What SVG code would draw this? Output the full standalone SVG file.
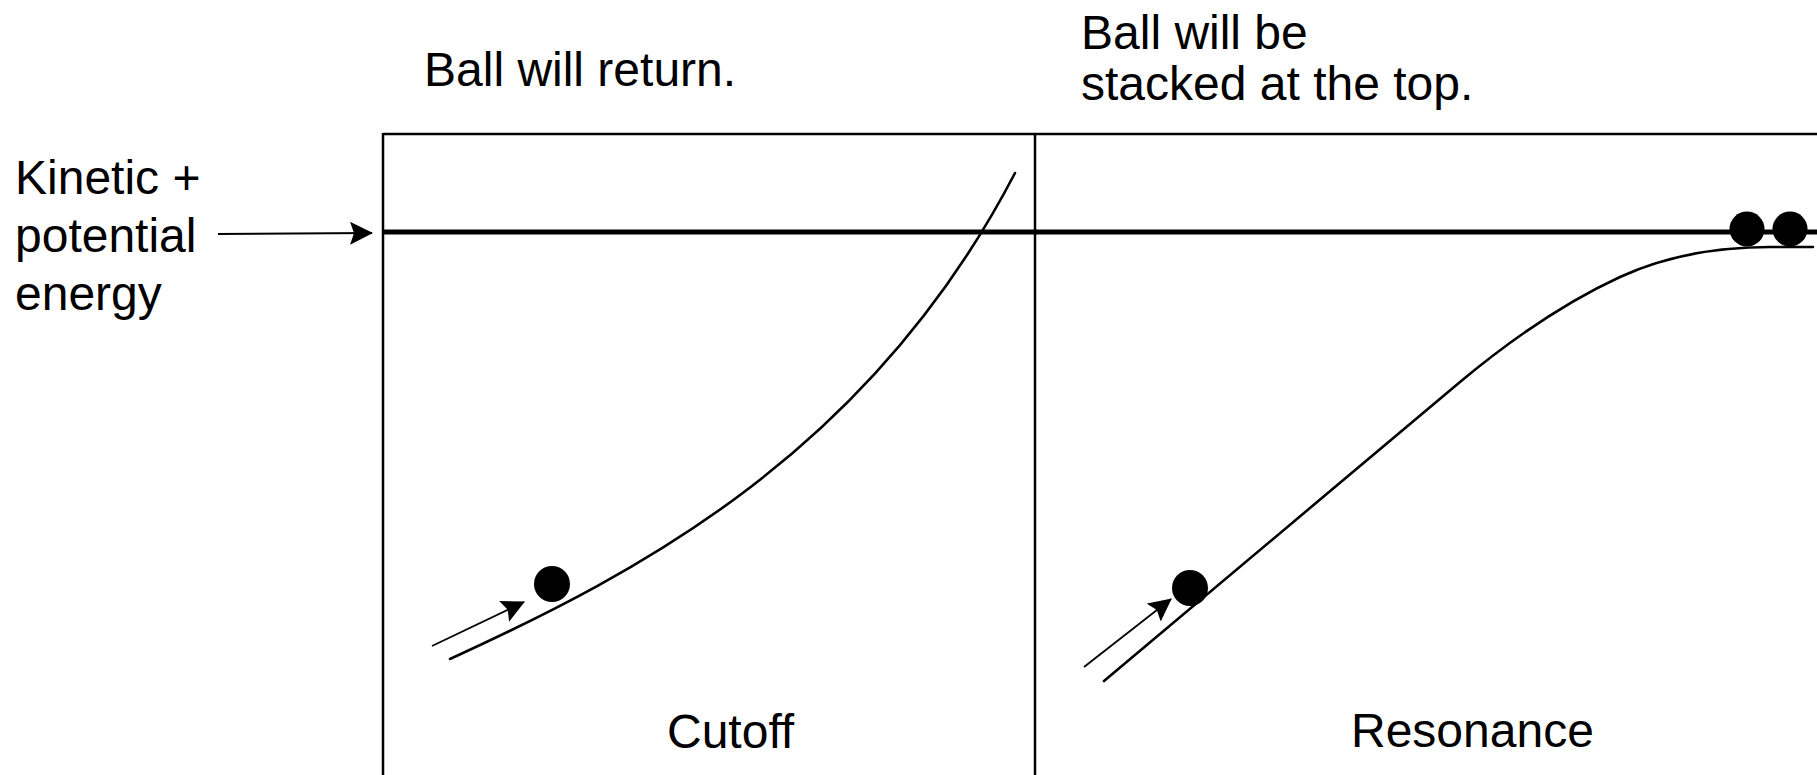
<svg xmlns="http://www.w3.org/2000/svg" width="1817" height="775" viewBox="0 0 1817 775">
<style>
  .lbl { font-family: "Liberation Sans", Arial, sans-serif; font-size: 48px; fill: #000; }
  .frame { stroke: #000; stroke-width: 2.5; fill: none; }
  .energy { stroke: #000; stroke-width: 5; fill: none; }
  .track { stroke: #000; stroke-width: 2.6; fill: none; stroke-linecap: round; }
  .arr { stroke: #000; stroke-width: 1.8; fill: none; }
  .ball { fill: #000; }
</style>
<defs>
  <marker id="ah" markerUnits="userSpaceOnUse" markerWidth="24" markerHeight="24" refX="22" refY="11.5" orient="auto">
    <path d="M0,0 L23,11.5 L0,23 L4,11.5 z" fill="#000"/>
  </marker>
</defs>
<rect width="1817" height="775" fill="#fff"/>

<g id="frame">
  <line class="frame" x1="383" y1="134" x2="1817" y2="134"/>
  <line class="frame" x1="383" y1="133" x2="383" y2="775"/>
  <line class="frame" x1="1035" y1="133" x2="1035" y2="775"/>
  <line class="energy" x1="383" y1="232" x2="1817" y2="232"/>
</g>

<g id="labels">
  <text class="lbl" x="424" y="86">Ball will return.</text>
  <text class="lbl" x="1081" y="49">Ball will be</text>
  <text class="lbl" x="1081" y="100">stacked at the top.</text>
  <text class="lbl" x="15" y="194">Kinetic +</text>
  <text class="lbl" x="15" y="252">potential</text>
  <text class="lbl" x="15" y="310">energy</text>
</g>

<g id="cutoff">
  <path class="track" d="M450,659 C640,572 870,452 1015,173"/>
  <circle class="ball" cx="552" cy="584" r="18"/>
  <text class="lbl" x="667" y="748">Cutoff</text>
</g>

<g id="resonance">
  <path class="track" d="M1104,681 L1460,382 C1520,332 1570,300 1620,277 C1670,254 1720,247 1770,247 L1813,247"/>
  <circle class="ball" cx="1190" cy="588" r="18"/>
  <circle class="ball" cx="1747" cy="229" r="17.5"/>
  <circle class="ball" cx="1790" cy="229" r="17.5"/>
  <text class="lbl" x="1351" y="747">Resonance</text>
</g>

<g id="connectors">
  <line class="arr" x1="218" y1="234" x2="372" y2="233" marker-end="url(#ah)" stroke-width="2.2"/>
  <line class="arr" x1="432" y1="646" x2="524" y2="602" marker-end="url(#ah)"/>
  <line class="arr" x1="1084" y1="667" x2="1171" y2="599" marker-end="url(#ah)"/>
</g>
</svg>
